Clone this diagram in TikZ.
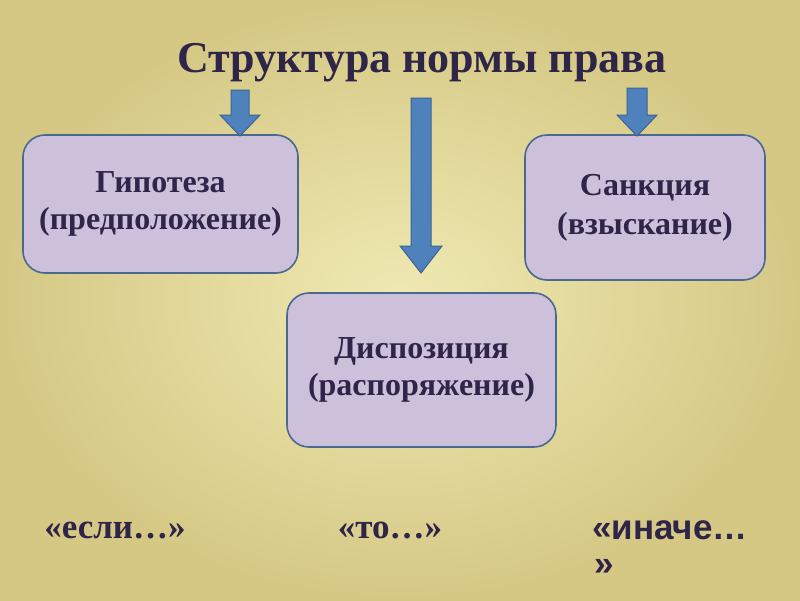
\documentclass[tikz,border=0pt]{standalone}
\usepackage{fontspec}
\setmainfont{Liberation Serif}
\newfontfamily\sansf{Liberation Sans}
\definecolor{txt}{HTML}{2E2548}
\definecolor{boxfill}{HTML}{CCC0DA}
\definecolor{boxline}{HTML}{4A6890}
\definecolor{arrfill}{HTML}{4F81BD}
\definecolor{arrline}{HTML}{3A6494}
\definecolor{bgin}{HTML}{EFE9B2}
\definecolor{bgout}{HTML}{D5C885}
\tikzset{
  normbox/.style={draw=boxline, line width=1.6pt, fill=boxfill, rounded corners=22pt,
    align=center, text=txt, font=\fontsize{32}{37}\selectfont\bfseries, inner sep=0pt},
  blockarrow/.style={fill=arrfill, draw=arrline, line width=1pt, line join=miter},
  bottomtext/.style={text=txt, font=\fontsize{35}{40}\selectfont\bfseries, inner sep=0pt}
}
\newcommand\barrow[6]{% cx, top, headstart, tip, shaft half, head half
  \draw[blockarrow] (#1-#5,#2) -- (#1+#5,#2) -- (#1+#5,#3) -- (#1+#6,#3) -- (#1,#4)
    -- (#1-#6,#3) -- (#1-#5,#3) -- cycle;}
\begin{document}
\begin{tikzpicture}[x=1pt,y=-1pt]
\shade[inner color=bgin, outer color=bgout] (0,0) rectangle (800,600);
\useasboundingbox (0,0) rectangle (800,600);
\node[text=txt, font=\fontsize{44}{50}\selectfont\bfseries, inner sep=0pt] (title) at (422,63) {Структура нормы права};
\node[normbox, minimum width=275pt, minimum height=138pt] (hyp) at (160.5,204) {Гипотеза\\(предположение)};
\node[normbox, minimum width=240pt, minimum height=145pt, font=\fontsize{32}{39}\selectfont\bfseries] (sanc) at (645,207.5) {Санкция\\(взыскание)};
\node[normbox, minimum width=269pt, minimum height=154pt] (disp) at (421.5,370) {Диспозиция\\(распоряжение)};
\barrow{240}{90}{115}{136}{9}{20}
\barrow{421}{98}{246}{273}{10}{21}
\barrow{637}{88}{115}{136}{10}{20}
\node[bottomtext] (if) at (115,530) {«если…»};
\node[bottomtext] (then) at (390,530) {«то…»};
\node[bottomtext, font=\sansf\fontsize{35}{40}\selectfont\bfseries, anchor=west] (else) at (592,530) {«иначе…};
\node[bottomtext, font=\sansf\fontsize{35}{40}\selectfont\bfseries, anchor=west] (else2) at (594,567) {»};
\end{tikzpicture}
\end{document}
